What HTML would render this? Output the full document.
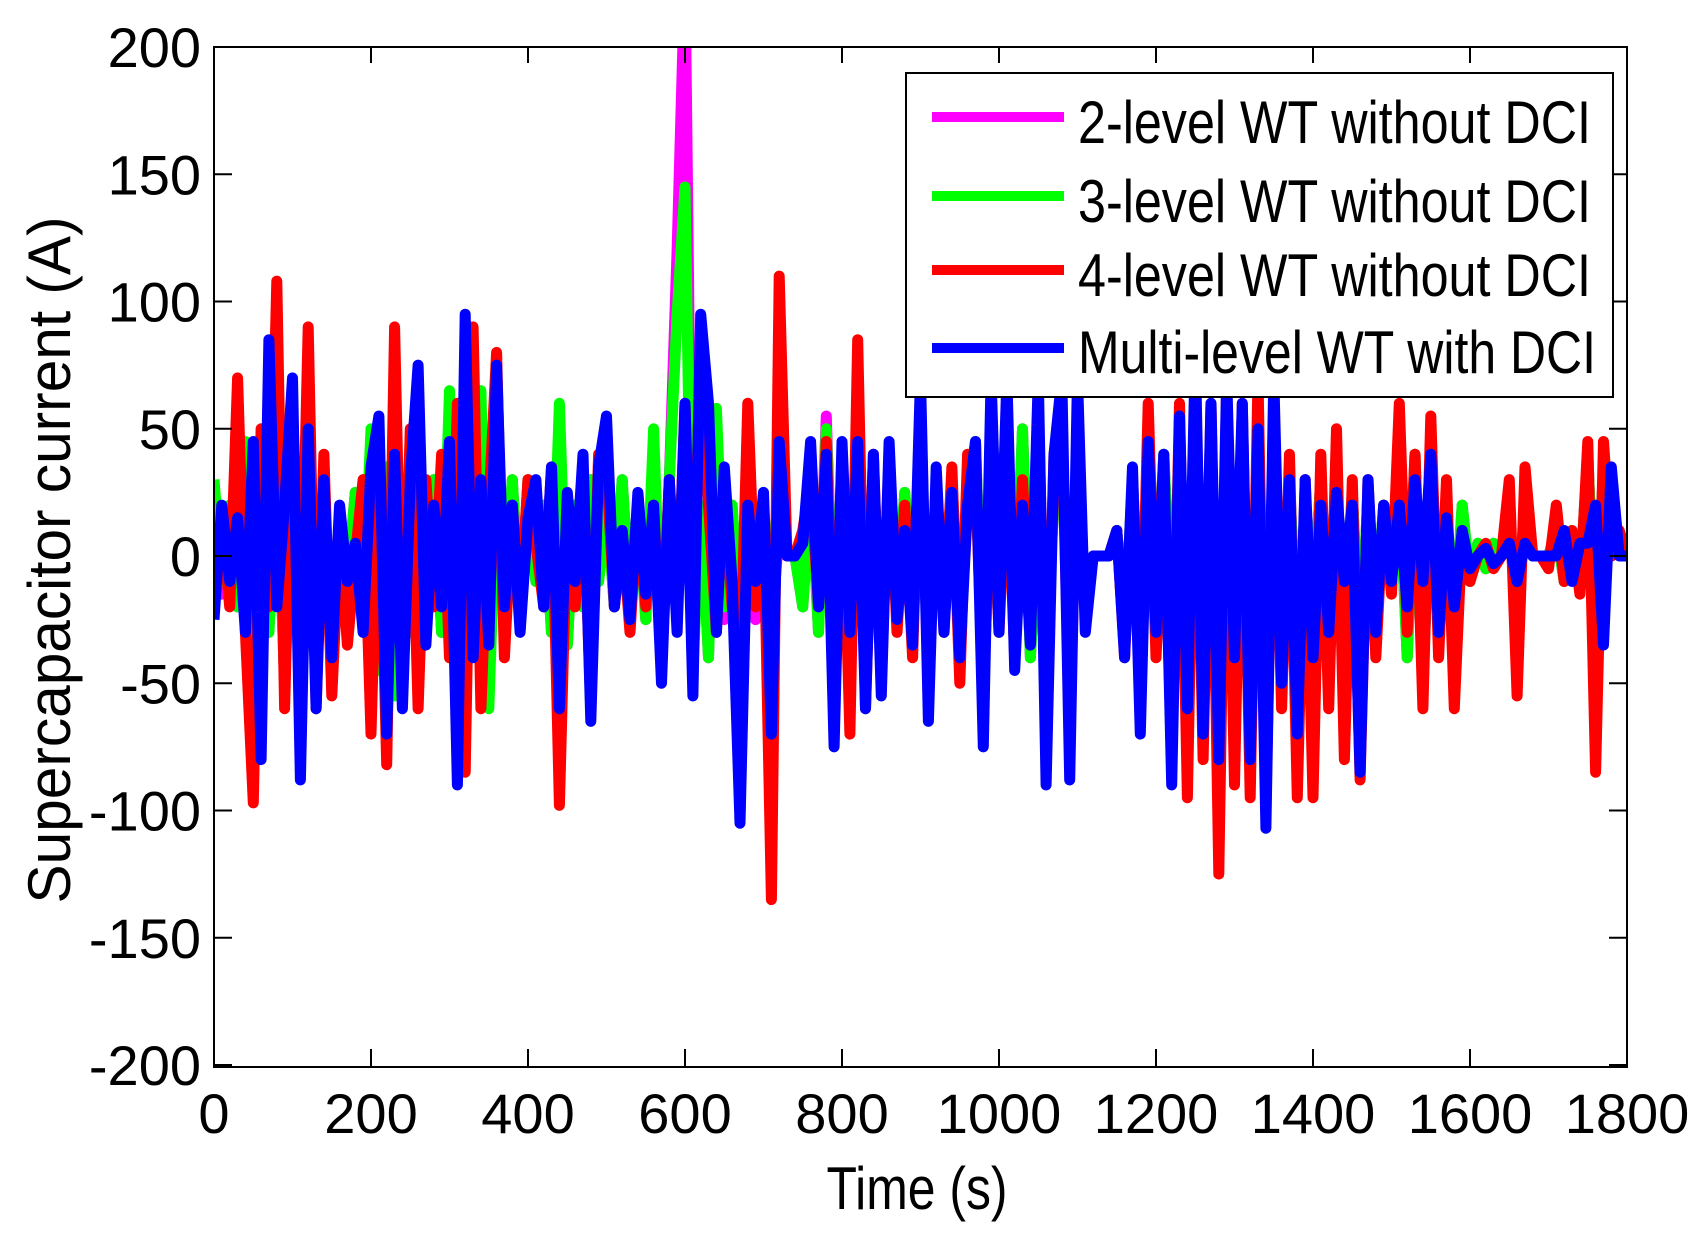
<!DOCTYPE html>
<html><head><meta charset="utf-8"><style>
html,body{margin:0;padding:0;background:#fff;}
svg{display:block;font-family:"Liberation Sans",Arial,sans-serif;}
</style></head><body>
<svg id="chart" width="1695" height="1238" viewBox="0 0 1695 1238" xmlns="http://www.w3.org/2000/svg">
<defs><clipPath id="plotclip"><rect x="214" y="47" width="1413" height="1020"/></clipPath></defs>
<rect width="1695" height="1238" fill="#fff"/>
<g id="series" clip-path="url(#plotclip)"></g>
<rect x="214" y="47" width="1413" height="1020" fill="none" stroke="#000" stroke-width="2"/>
<g id="ticks"></g>
<g id="xlabels" font-size="56" text-anchor="middle"></g>
<g id="ylabels" font-size="56" text-anchor="end"></g>
<text x="917" y="1209" font-size="60" text-anchor="middle" textLength="181" lengthAdjust="spacingAndGlyphs">Time (s)</text>
<text transform="translate(70,560) rotate(-90)" font-size="60" text-anchor="middle" textLength="687" lengthAdjust="spacingAndGlyphs">Supercapacitor current (A)</text>
<g>
<rect x="906" y="73" width="707" height="324" fill="#fff" stroke="#000" stroke-width="2"/>
<g><line x1="932" y1="117" x2="1064" y2="117" stroke="#ff00ff" stroke-width="10"/><text x="1078" y="143" font-size="60" textLength="513" lengthAdjust="spacingAndGlyphs">2-level WT without DCI</text></g>
<g><line x1="932" y1="196" x2="1064" y2="196" stroke="#00ff00" stroke-width="10"/><text x="1078" y="222" font-size="60" textLength="513" lengthAdjust="spacingAndGlyphs">3-level WT without DCI</text></g>
<g><line x1="932" y1="270" x2="1064" y2="270" stroke="#ff0000" stroke-width="10"/><text x="1078" y="296" font-size="60" textLength="513" lengthAdjust="spacingAndGlyphs">4-level WT without DCI</text></g>
<g><line x1="932" y1="348" x2="1064" y2="348" stroke="#0000ff" stroke-width="10"/><text x="1078" y="373" font-size="60" textLength="518" lengthAdjust="spacingAndGlyphs">Multi-level WT with DCI</text></g>
</g>
</svg>
<script>
const timeStep = 10;
const xTicks = [0,200,400,600,800,1000,1200,1400,1600,1800];
const yTicks = [200,150,100,50,0,-50,-100,-150,-200];
const magenta2Level = [
25,-15,20,-20,40,-55,25,-30,40,-50,
30,-40,20,-30,10,-20,5,-10,25,-20,
45,-45,35,-50,30,-30,20,-25,30,-30,
60,-60,30,-30,60,-55,30,-20,30,-25,
30,-10,20,-30,55,-35,20,-20,30,-10,
20,-20,30,-20,20,-25,45,-40,30,120,
230,-40,20,-40,55,-25,20,-30,10,-25,
20,-28,10,0,0,-20,30,-30,55,-40,
30,-25,20,-30,30,-25,20,-20,25,-30,
30,-30,20,-20,30,-30,20,45,-50,20,
-20,30,-30,50,-40,20,-30,20,45,-35,
20,-20,0,0,0,10,-30,30,-30,30,
-20,40,-30,40,-40,50,-40,30,-40,40,
-30,30,-40,30,-40,30,-30,30,-40,20,
-20,30,-30,20,-20,25,-40,25,-20,20,
-10,30,-40,40,-50,30,-30,20,-30,20,
-10,5,-5,5,0,10,-20,20,0,0,
0,10,-10,10,-10,40,-35,35,0,5,
0];
const green3Level = [
30,-10,20,-20,45,-60,25,-30,40,-50,
30,-40,20,-30,10,-20,5,-10,25,-20,
50,-45,35,-55,30,-30,20,-25,30,-30,
65,-65,30,-30,65,-60,30,-20,30,-25,
30,-10,20,-30,60,-35,20,-20,30,-10,
20,-20,30,-20,20,-25,50,-40,30,95,
145,-45,20,-40,58,-20,20,-30,10,-10,
20,-20,10,0,0,-20,30,-30,50,-40,
30,-25,20,-30,30,-25,20,-20,25,-30,
30,-30,20,-20,30,-30,20,45,-50,20,
-20,30,-30,50,-40,20,-30,20,45,-35,
20,-20,0,0,0,10,-30,30,-30,30,
-20,40,-30,40,-40,50,-40,30,-40,40,
-30,30,-40,30,-40,30,-30,30,-40,20,
-20,30,-30,20,-20,25,-40,25,-20,20,
-10,30,-40,40,-50,30,-30,20,-30,20,
-10,5,-5,5,0,10,-20,20,0,0,
0,10,-10,10,-10,40,-35,35,0,5,
0];
const red4Level = [
0,15,-20,70,-30,-97,50,-20,108,-60,
60,-40,90,-60,40,-55,10,-35,0,30,
-70,40,-82,90,-50,50,-60,30,-20,40,
-40,60,-85,90,-60,20,80,-40,20,-20,
30,5,-20,35,-98,20,-20,30,-60,40,
35,-20,10,-30,20,-20,20,-40,30,-25,
60,-40,90,20,-30,30,-20,-50,60,-20,
20,-135,110,0,0,10,30,-20,45,-55,
40,-70,85,-60,40,-50,40,-30,20,-40,
60,-55,30,-30,35,-50,40,30,-55,40,
-30,40,-40,30,-30,60,-70,40,50,-65,
40,-20,0,0,0,10,-40,30,-60,60,
-40,30,-80,60,-95,70,-80,60,-125,70,
-90,60,-95,70,-100,60,-60,40,-95,30,
-95,40,-60,50,-80,30,-88,30,-40,20,
-15,60,-30,40,-60,55,-40,30,-60,10,
-10,0,5,-5,0,30,-55,35,0,0,
-5,20,-10,10,-15,45,-85,45,0,10,
0];
const blueMultiDCI = [
-25,20,-10,15,-30,45,-80,85,-20,20,
70,-88,50,-60,30,-40,20,-10,5,-30,
35,55,-70,40,-60,30,75,-35,20,-20,
45,-90,95,-40,30,-35,75,-20,20,-30,
15,30,-20,35,-60,25,-10,40,-65,35,
55,-20,10,-25,25,-15,20,-50,30,-30,
60,-55,95,60,-30,35,-10,-105,20,-10,
25,-70,45,0,0,5,45,-20,40,-75,
45,-30,45,-60,40,-55,45,-25,10,-35,
70,-65,35,-30,25,-40,20,45,-75,70,
-30,70,-45,20,-35,70,-90,40,70,-88,
70,-30,0,0,0,10,-40,35,-70,45,
-30,40,-90,55,-60,80,-70,60,-80,70,
-40,60,-80,50,-107,70,-50,30,-70,30,
-40,20,-30,25,-10,20,-85,30,-30,20,
-10,20,-20,30,-10,40,-30,15,-20,10,
-5,0,3,-3,0,5,-10,5,0,0,
0,0,10,-10,5,5,20,-35,35,0,
0];

const X0=214, X1=1627, Y0=47, Y1=1065;
function xScale(t){ return X0 + t*(X1-X0)/1800; }
function yScale(v){ return Y0 + (200-v)*(Y1-Y0)/400; }
const NS='http://www.w3.org/2000/svg';
const seriesG=document.getElementById('series');
function drawSeries(vals,color,name){
  const p=document.createElementNS(NS,'polyline');
  p.setAttribute('points',vals.map((v,i)=>xScale(i*timeStep).toFixed(1)+','+yScale(v).toFixed(1)).join(' '));
  p.setAttribute('fill','none');
  p.setAttribute('stroke',color);
  p.setAttribute('stroke-width','11');
  p.setAttribute('stroke-linejoin','round');
  
  
  seriesG.appendChild(p);
}
drawSeries(magenta2Level,'#ff00ff','series-2-level-wt');
drawSeries(green3Level,'#00ff00','series-3-level-wt');
drawSeries(red4Level,'#ff0000','series-4-level-wt');
drawSeries(blueMultiDCI,'#0000ff','series-multi-level-wt-dci');

const ticksG=document.getElementById('ticks');
function tick(x1,y1,x2,y2,name){
  const l=document.createElementNS(NS,'line');
  l.setAttribute('x1',x1);l.setAttribute('y1',y1);l.setAttribute('x2',x2);l.setAttribute('y2',y2);
  l.setAttribute('stroke','#000');l.setAttribute('stroke-width','2');
  
  
  ticksG.appendChild(l);
}
const xl=document.getElementById('xlabels');
xTicks.forEach(t=>{
  const x=xScale(t);
  tick(x,Y1+2,x,Y1-16,'x-tick');
  tick(x,Y0,x,Y0+16,'x-tick-top');
  const tx=document.createElementNS(NS,'text');
  tx.setAttribute('x',x);tx.setAttribute('y',1133);
  tx.textContent=t;
  
  
  xl.appendChild(tx);
});
const yl=document.getElementById('ylabels');
yTicks.forEach(v=>{
  const y=yScale(v);
  tick(X0,y,X0+18,y,'y-tick');
  tick(X1,y,X1-18,y,'y-tick-right');
  const tx=document.createElementNS(NS,'text');
  tx.setAttribute('x',201);tx.setAttribute('y',y+20);
  tx.textContent=v;
  
  
  yl.appendChild(tx);
});
</script>
</body></html>
